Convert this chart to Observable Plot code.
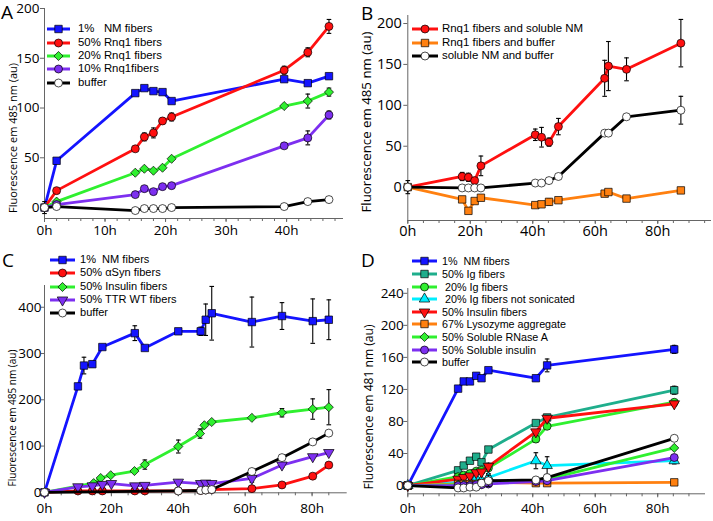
<!DOCTYPE html>
<html>
<head>
<meta charset="utf-8">
<script src="https://cdn.jsdelivr.net/npm/d3@7"></script>
<script src="https://cdn.jsdelivr.net/npm/@observablehq/plot@0.6"></script>
<style>
  body { margin: 0; background: #fff; }
  #root { position: relative; width: 713px; height: 521px; overflow: hidden; font-family: "Open Sans", "Noto Sans", sans-serif; color: #000; }
  .panel { position: absolute; }
  .panel svg { overflow: visible; }
  .letter { position: absolute; font-size: 19px; line-height: 1; }
  .ytitle { position: absolute; white-space: nowrap; line-height: 1; transform: translate(-50%, -50%) rotate(-90deg); }
  .lrow { position: absolute; height: 10px; }
  .lrow svg { position: absolute; top: 0; }
  .lrow span { position: absolute; top: 50%; transform: translateY(-50%); white-space: pre; line-height: 1; }
</style>
</head>
<body>
<div id="root"></div>
<script>
// ---------------- DATA ----------------
// Panel A (hours, values in au)
const A_hours = [0, 2, 15, 16.5, 18, 19.5, 21, 39.6, 43.5, 47];
const A_nm1 = [0, 47, 115, 120, 117, 116, 107, 129, 125, 132];
const A_rnq50 = [0, 17, 59, 71, 75, 87, 91, 138, 156, 182];
const A_rnq50_err = [0, 0, 0, 4, 5, 3, 4, 4, 4.5, 7];
const A_rnq20 = [0, 6, 35, 39, 37, 40, 49, 102, 107, 116];
const A_rnq20_err = [0, 0, 0, 0, 0, 0, 0, 0, 7, 4];
const A_rnq10 = [0, 3, 13, 19, 16, 21, 22, 62, 70, 93];
const A_rnq10_err = [0, 0, 0, 0, 0, 0, 0, 0, 7, 4];
const A_buffer = [0, 1, -3, -1, -1, -1, 0, 1, 6, 8];
const A_buffer_err = [6, 0, 0, 0, 0, 0, 0, 0, 0, 0];
const A_labels = ["1%   NM fibers", "50% Rnq1 fibers", "20% Rnq1 fibers", "10% Rnq1fibers", "buffer"];
const A_xticks = [0, 10, 20, 30, 40];
const A_yticks = [0, 50, 100, 150, 200];

// Panel B
const B_hours = [0, 17.4, 19.4, 21.4, 23.4, 40.8, 42.8, 45.2, 48.2, 63, 64.2, 70, 87.4];
const B_rnqNM = [0, 13, 12, 8, 26, 64, 61, 55, 74, 133, 148, 144, 176];
const B_rnqNM_err = [0, 5, 5, 0, 12, 7, 12, 5, 10, 22, 30, 14, 29];
const B_rnqBuf = [0, -15, -29, -17, -13, -22, -21, -18, -16, -8, -6, -14, -4];
const B_rnqBuf_err = [0, 0, 0, 0, 0, 0, 0, 4, 0, 0, 3, 0, 0];
const B_nmBuf = [0, -1, -1, -1, -1, 5, 5, 8, 13, 66, 66, 86, 94];
const B_nmBuf_err = [8, 0, 0, 0, 0, 0, 0, 0, 0, 0, 0, 0, 17];
const B_labels = ["Rnq1 fibers and soluble NM", "Rnq1 fibers and buffer", "soluble NM and buffer"];
const B_xticks = [0, 20, 40, 60, 80];
const B_yticks = [0, 50, 100, 150, 200];

// Panel C
const C_nm_hours = [0, 10, 11.8, 14.3, 17.3, 27, 30, 40, 46.7, 48.2, 50, 62, 71, 80.2, 85];
const C_nm = [0, 229, 274, 277, 314, 344, 312, 348, 348, 373, 387, 368, 381, 370, 373];
const C_nm_err = [0, 0, 18, 6, 0, 16, 0, 5, 9, 34, 58, 54, 29, 48, 43];
const C_syn_hours = [0, 10, 14.3, 17.3, 27, 30, 40, 46.7, 48.2, 50, 62, 71, 80.2, 85];
const C_syn = [0, 3, 3, 3, 3, 3, 3, 4, 5, 6, 8, 16, 35, 59];
const C_ins_hours = [0, 14.7, 16.8, 19.8, 26.9, 30, 40, 46.5, 47.8, 50, 62, 71, 80.2, 85];
const C_ins = [0, 20, 31, 37, 46, 60, 99, 127, 145, 152, 161, 172, 180, 184];
const C_ins_err = [0, 0, 0, 0, 0, 10, 14, 10, 0, 0, 0, 9, 22, 38];
const C_ttr_hours = [0, 10, 14.3, 17.3, 20, 27, 30, 40, 46.7, 48.2, 50, 62, 71, 80.2, 85];
const C_ttr = [0, 12, 14, 17, 19, 14, 15, 22, 19, 20, 19, 30, 59, 77, 86];
const C_ttr_err = [0, 0, 0, 0, 0, 0, 0, 4, 0, 0, 0, 8, 5, 4, 0];
const C_buf_hours = [0, 40, 46.7, 48.2, 50, 62, 71, 80.2, 85];
const C_buf = [0, 3, 4, 5, 6, 45, 75, 109, 128];
const C_labels = ["1%  NM fibers", "50% \u03b1Syn fibers", "50% Insulin fibers", "50% TTR WT fibers", "buffer"];
const C_xticks = [0, 20, 40, 60, 80];
const C_yticks = [0, 100, 200, 300, 400];

// Panel D
const D_hours = [0, 16.1, 17.9, 19.9, 21.9, 23.6, 25.8, 41, 44.6, 85.3];
const D_nm = [0, 121, 130, 130, 137, 134, 144, 134, 150, 170];
const D_nm_err = [0, 0, 0, 0, 0, 0, 0, 0, 8, 5];
const D_ig50 = [0, 19, 25, 31, 36, 29, 45, 78, 85, 119];
const D_ig50_err = [0, 0, 0, 0, 0, 0, 0, 0, 0, 5];
const D_ig20 = [0, 11, 13, 15, 18, 19, 22, 58, 74, 104];
const D_ig20_err = [0, 0, 0, 0, 0, 0, 0, 4, 4, 3];
const D_igNS = [0, 4, 4, 3, 9, 6, 10, 31, 25, 31];
const D_igNS_err = [0, 0, 0, 0, 0, 0, 5, 10, 11, 4];
const D_ins = [0, 8, 10, 12, 16, 17, 24, 67, 84, 102];
const D_ins_err = [0, 0, 0, 0, 0, 0, 4, 0, 3, 3];
const D_lys = [0, 2, 2, 2, 2, 3, 4, 3, 3, 4];
const D_rnase = [0, 1, 1, 1, 2, 2, 3, 6, 8, 47];
const D_solIns = [0, 0, 0, 0, 1, 1, 2, 5, 6, 35];
const D_buf = [0, -3, -3, -2, -2, 3, 6, 7, 10, 59];
const D_buf_err = [0, 0, 0, 0, 0, 0, 7, 0, 0, 0];
const D_labels = ["1%  NM fibers", "50% Ig fibers", " 20% Ig fibers", " 20% Ig fibers not sonicated", "50% Insulin fibers",
  "67% Lysozyme aggregate", "50% Soluble RNase A", "50% Soluble insulin", "buffer"];
const D_xticks = [0, 20, 40, 60, 80];
const D_yticks = [0, 40, 80, 120, 160, 200, 240];

// ---------------- STYLE ----------------
const BLUE = "#1414ff", RED = "#ff1010", GREEN = "#2ff02f", PURPLE = "#7d2ff0",
      ORANGE = "#ff8010", TEAL = "#1fae8c", CYAN = "#00eeff", BLACK = "#000";
const AXIS = "#666";

const triDown = { draw(ctx, size) {
  const y = Math.sqrt(size / (Math.sqrt(3) * 3)), s3 = Math.sqrt(3);
  ctx.moveTo(0, 2 * y); ctx.lineTo(s3 * y, -y); ctx.lineTo(-s3 * y, -y); ctx.closePath();
}};
const capSym = { draw(ctx, size) {
  const w = Math.sqrt(size) / 2; ctx.moveTo(-w, 0); ctx.lineTo(w, 0);
}};
const SYM = { square: d3.symbolSquare, circle: d3.symbolCircle, diamond: d3.symbolDiamond2,
  triUp: d3.symbolTriangle, triDown: triDown };
const SYM_R = { square: 4.2, circle: 4.0, diamond: 4.1, triUp: 3.9, triDown: 3.9 };

function S(label, hours, values, errors, color, sym, fill) {
  return { label, color, sym, fill: fill || color,
    rows: hours.map((h, i) => ({ h, v: values[i], e: errors ? errors[i] : 0 })) };
}

const FONT = '"Open Sans", "Noto Sans", sans-serif';
const LEGEND_FONT = '"Liberation Sans", Arial, sans-serif';

const panels = [
  { letter: "A", left: 0, top: 0, width: 356, height: 255,
    m: [8, 13, 37, 44], xDomain: [0, 49.4], yDomain: [-11, 200],
    xTicks: A_xticks, xMinor: d3.range(0, 49, 2), yTicks: A_yticks,
    xFont: 13.5, yFont: 13.5, xPad: 3, yPad: 1, yTick: 4,
    letterPos: [1, 3],
    title: { text: "Fluorescence em 485 nm (au)", x: 12, y: 138, len: 150 },
    legend: { swatch: [47, 70], text: 78, y0: 29.3, dy: 13.3, fit: ["50% Rnq1 fibers", 84] },
    series: [
      S(A_labels[0], A_hours, A_nm1, null, BLUE, "square"),
      S(A_labels[1], A_hours, A_rnq50, A_rnq50_err, RED, "circle"),
      S(A_labels[2], A_hours, A_rnq20, A_rnq20_err, GREEN, "diamond"),
      S(A_labels[3], A_hours, A_rnq10, A_rnq10_err, PURPLE, "circle"),
      S(A_labels[4], A_hours, A_buffer, A_buffer_err, BLACK, "circle", "#fff"),
    ] },
  { letter: "B", left: 355, top: 0, width: 358, height: 255,
    m: [15, 2, 35, 52.3], xDomain: [0, 97.2], yDomain: [-40.8, 209.8],
    xTicks: B_xticks, xMinor: d3.range(0, 96, 5), yTicks: B_yticks,
    xFont: 14.5, yFont: 14.5, xPad: 1, yPad: 2, yTick: 4,
    letterPos: [361, 4],
    title: { text: "Fluorescence em 485 nm (au)", x: 367, y: 122, len: 181 },
    legend: { swatch: [412, 438], text: 442, y0: 29.3, dy: 13.4, fit: ["Rnq1 fibers and soluble NM", 143] },
    series: [
      S(B_labels[0], B_hours, B_rnqNM, B_rnqNM_err, RED, "circle"),
      S(B_labels[1], B_hours, B_rnqBuf, B_rnqBuf_err, ORANGE, "square"),
      S(B_labels[2], B_hours, B_nmBuf, B_nmBuf_err, BLACK, "circle", "#fff"),
    ] },
  { letter: "C", left: 0, top: 260, width: 356, height: 261,
    m: [25, 9.3, 28.7, 44], xDomain: [0, 90.5], yDomain: [-1, 447],
    xTicks: C_xticks, xMinor: d3.range(0, 90, 5), yTicks: C_yticks,
    xFont: 13.5, yFont: 13.5, xPad: 7, yPad: 0, yTick: 3,
    letterPos: [2, 251],
    title: { text: "Fluorescence em 485 nm (au)", x: 12, y: 418, len: 137 },
    legend: { swatch: [50, 75], text: 80, y0: 259.8, dy: 13.4, fit: ["50% TTR WT fibers", 97] },
    series: [
      S(C_labels[0], C_nm_hours, C_nm, C_nm_err, BLUE, "square"),
      S(C_labels[1], C_syn_hours, C_syn, null, RED, "circle"),
      S(C_labels[2], C_ins_hours, C_ins, C_ins_err, GREEN, "diamond"),
      S(C_labels[3], C_ttr_hours, C_ttr, C_ttr_err, PURPLE, "triDown"),
      S(C_labels[4], C_buf_hours, C_buf, null, BLACK, "circle", "#fff"),
    ] },
  { letter: "D", left: 355, top: 260, width: 358, height: 261,
    m: [28, 8, 27.7, 52.3], xDomain: [0, 95.3], yDomain: [-10.3, 246],
    xTicks: D_xticks, xMinor: d3.range(0, 95, 5), yTicks: D_yticks,
    xFont: 13.5, yFont: 13.5, xPad: 6, yPad: 0, yTick: 4,
    letterPos: [361, 251],
    title: { text: "Fluorescence em 481 nm (au)", x: 369, y: 407, len: 165 },
    legend: { swatch: [412, 437], text: 442, y0: 261.4, dy: 12.6, fit: ["20% Ig fibers not sonicated", 142] },
    series: [
      S(D_labels[0], D_hours, D_nm, D_nm_err, BLUE, "square"),
      S(D_labels[1], D_hours, D_ig50, D_ig50_err, TEAL, "square"),
      S(D_labels[2], D_hours, D_ig20, D_ig20_err, GREEN, "circle"),
      S(D_labels[3], D_hours, D_igNS, D_igNS_err, CYAN, "triUp"),
      S(D_labels[4], D_hours, D_ins, D_ins_err, RED, "triDown"),
      S(D_labels[5], D_hours, D_lys, null, ORANGE, "square"),
      S(D_labels[6], D_hours, D_rnase, null, GREEN, "diamond"),
      S(D_labels[7], D_hours, D_solIns, null, PURPLE, "circle"),
      S(D_labels[8], D_hours, D_buf, D_buf_err, BLACK, "circle", "#fff"),
    ] },
];

const root = document.getElementById("root");
const measureCtx = document.createElement("canvas").getContext("2d");
function fitSize(text, len, font) {
  measureCtx.font = `100px ${font || FONT}`;
  return 100 * len / measureCtx.measureText(text).width;
}

for (const p of panels) {
  const marks = [
    Plot.ruleX([p.xDomain[0]], { stroke: AXIS, strokeWidth: 1 }),
    Plot.ruleY([p.yDomain[0]], { stroke: AXIS, strokeWidth: 1 }),
    Plot.axisX({ ticks: p.xMinor, tickSize: 3, fill: "none", stroke: AXIS, label: null }),
    Plot.axisX({ ticks: p.xTicks, tickSize: 4, tickPadding: p.xPad, stroke: AXIS, fill: "black",
      tickFormat: d => d + "h", fontSize: p.xFont, label: null }),
    Plot.axisY({ ticks: p.yTicks, tickSize: p.yTick, tickPadding: p.yPad, stroke: AXIS, fill: "black",
      tickFormat: d => String(d), fontSize: p.yFont, label: null }),
  ];
  for (const s of p.series) {
    const err = s.rows.filter(d => d.e > 0);
    marks.push(
      Plot.line(s.rows, { x: "h", y: "v", stroke: s.color, strokeWidth: 2.8, strokeLinejoin: "round" }),
      Plot.ruleX(err, { x: "h", y1: d => d.v - d.e, y2: d => d.v + d.e, stroke: "black", strokeWidth: 1.1 }),
      Plot.dot(err, { x: "h", y: d => d.v + d.e, symbol: capSym, r: 2.6, stroke: "black", fill: "none", strokeWidth: 1.1 }),
      Plot.dot(err, { x: "h", y: d => d.v - d.e, symbol: capSym, r: 2.6, stroke: "black", fill: "none", strokeWidth: 1.1 }),
      Plot.dot(s.rows, { x: "h", y: "v", symbol: SYM[s.sym], r: SYM_R[s.sym], fill: s.fill, stroke: "black", strokeWidth: 0.7 })
    );
  }
  const chart = Plot.plot({
    width: p.width, height: p.height,
    marginTop: p.m[0], marginRight: p.m[1], marginBottom: p.m[2], marginLeft: p.m[3],
    x: { domain: p.xDomain },
    y: { domain: p.yDomain },
    style: { fontFamily: FONT, background: "transparent", color: "black", overflow: "visible" },
    marks
  });
  const holder = document.createElement("div");
  holder.className = "panel";
  holder.style.left = p.left + "px"; holder.style.top = p.top + "px";
  holder.style.width = p.width + "px"; holder.style.height = p.height + "px";
  holder.appendChild(chart);
  root.appendChild(holder);

  // panel letter
  const L = document.createElement("div");
  L.className = "letter"; L.textContent = p.letter;
  L.style.left = p.letterPos[0] + "px"; L.style.top = p.letterPos[1] + "px";
  root.appendChild(L);

  // y-axis title
  const T = document.createElement("div");
  T.className = "ytitle"; T.textContent = p.title.text;
  T.style.left = p.title.x + "px"; T.style.top = p.title.y + "px";
  T.style.fontSize = fitSize(p.title.text, p.title.len).toFixed(2) + "px";
  root.appendChild(T);

  // legend (font size fitted to the reference width, capped so rows never overlap)
  const lg = p.legend;
  const lf = Math.min(fitSize(lg.fit[0], lg.fit[1], LEGEND_FONT), lg.dy / 1.17);
  p.series.forEach((s, i) => {
    const row = document.createElement("div");
    row.className = "lrow";
    const yc = lg.y0 + i * lg.dy;
    row.style.left = (lg.swatch[0] - 2) + "px";
    row.style.top = (yc - 5) + "px";
    const w = lg.swatch[1] - lg.swatch[0];
    const sz = Math.PI * SYM_R[s.sym] ** 2;
    const path = d3.symbol(SYM[s.sym], sz)();
    row.innerHTML =
      `<svg width="${w + 4}" height="10" style="left:0;overflow:visible"><line x1="2" x2="${w + 2}" y1="5" y2="5" stroke="${s.color}" stroke-width="3"/>` +
      `<path d="${path}" transform="translate(${2 + w / 2},5)" fill="${s.fill}" stroke="black" stroke-width="0.7"/></svg>` +
      `<span style="left:${lg.text - lg.swatch[0] + 2}px;font-size:${lf.toFixed(2)}px;font-family:${LEGEND_FONT.replace(/"/g, "'")}">${s.label}</span>`;
    root.appendChild(row);
  });
}
</script>
</body>
</html>
